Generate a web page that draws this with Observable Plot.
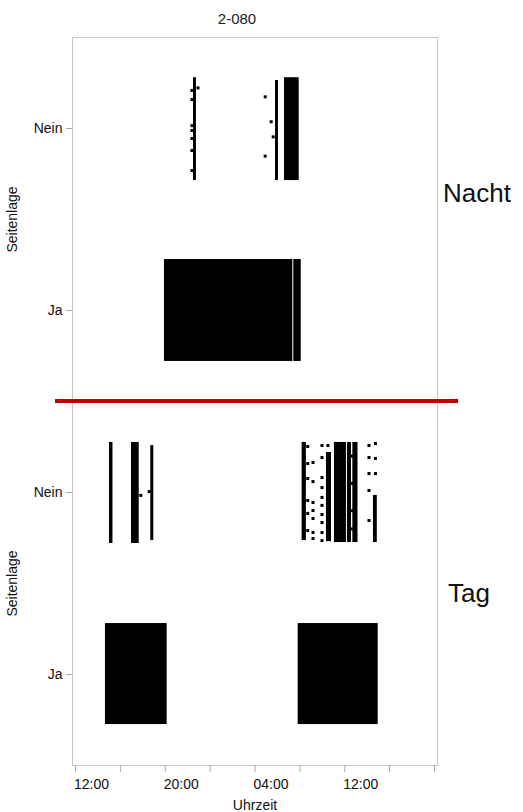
<!DOCTYPE html>
<html lang="de">
<head>
<meta charset="utf-8">
<title>2-080</title>
<script src="https://cdn.jsdelivr.net/npm/d3@7"></script>
<script src="https://cdn.jsdelivr.net/npm/@observablehq/plot@0.6"></script>
<style>
  html, body { margin: 0; padding: 0; background: #fff; }
  #chart { position: relative; width: 523px; height: 812px; font-family: "Liberation Sans", Arial, sans-serif; }
  #chart > svg { display: block; margin: 0; }
  #overlay { position: absolute; left: 0; top: 0; pointer-events: none; }
</style>
</head>
<body>
<div id="chart"></div>
<script>
// ---- Achse (Stunden ab Mitternacht des ersten Tages) ----
const stundenTicks = [12, 16, 20, 24, 28, 32, 36, 40, 44];
const stundenLabels = ["12:00", "", "20:00", "", "04:00", "", "12:00", "", ""];
const kategorien = ["Ja", "Nein"];            // y: Ja = 0, Nein = 1
const titel = "2-080";
const panelNamen = ["Nacht", "Tag"];

// ---- Nacht: Streifen [Kategorie, von, bis, Jitter oben, Jitter unten] ----
const nachtStreifen = [
  ["Ja",   19.93, 31.37,  0.28, -0.28],
  ["Ja",   31.46, 32.12,  0.28, -0.28],
  ["Nein", 22.52, 22.78,  0.279, -0.286],
  ["Nein", 29.83, 30.09,  0.264, -0.286],
  ["Nein", 30.63, 31.94,  0.279, -0.286]
];
// ---- Nacht: Einzelpunkte [Kategorie, Zeit, Jitter] ----
const nachtPunkte = [
  ["Nein", 22.38, 0.209], ["Nein", 22.38, 0.159], ["Nein", 22.38, 0.016],
  ["Nein", 22.38, -0.011], ["Nein", 22.38, -0.055], ["Nein", 22.38, -0.121],
  ["Nein", 22.38, -0.231], ["Nein", 22.92, 0.223],
  ["Nein", 28.91, 0.174], ["Nein", 29.44, 0.037], ["Nein", 29.62, -0.046],
  ["Nein", 28.91, -0.152]
];

// ---- Tag: Streifen ----
const tagStreifen = [
  ["Ja",   14.67, 20.17,  0.28, -0.275],
  ["Ja",   31.85, 38.98,  0.28, -0.275],
  ["Nein", 15.03, 15.34,  0.275, -0.28],
  ["Nein", 16.99, 17.68,  0.275, -0.28],
  ["Nein", 18.71, 18.98,  0.258, -0.264],
  ["Nein", 32.20, 32.58,  0.275, -0.264],
  ["Nein", 34.37, 34.82,  0.22, -0.27],
  ["Nein", 35.08, 36.15,  0.275, -0.275],
  ["Nein", 36.24, 36.60,  0.275, -0.275],
  ["Nein", 36.72, 37.18,  0.275, -0.275],
  ["Nein", 38.56, 38.90, -0.016, -0.275]
];
// ---- Tag: Einzelpunkte ----
const tagPunkte = [
  ["Nein", 17.82, -0.016], ["Nein", 18.57, 0.005],
  ["Nein", 32.70, 0.253], ["Nein", 32.70, 0.159], ["Nein", 32.70, 0.077],
  ["Nein", 32.70, -0.044], ["Nein", 32.70, -0.115], ["Nein", 32.70, -0.209],
  ["Nein", 33.17, 0.165], ["Nein", 33.17, 0.06], ["Nein", 33.17, -0.055],
  ["Nein", 33.17, -0.099], ["Nein", 33.17, -0.143], ["Nein", 33.17, -0.22],
  ["Nein", 33.17, -0.253],
  ["Nein", 33.97, 0.258], ["Nein", 33.97, 0.192], ["Nein", 33.97, 0.082],
  ["Nein", 33.97, 0.027], ["Nein", 33.97, -0.027], ["Nein", 33.97, -0.071],
  ["Nein", 33.97, -0.121], ["Nein", 33.97, -0.165], ["Nein", 33.97, -0.22],
  ["Nein", 33.97, -0.264],
  ["Nein", 34.50, 0.258],
  ["Nein", 36.66, 0.2], ["Nein", 36.66, 0.05], ["Nein", 36.66, -0.1], ["Nein", 36.66, -0.2],
  ["Nein", 38.16, 0.258], ["Nein", 38.16, 0.192], ["Nein", 38.16, 0.104],
  ["Nein", 38.16, 0.011], ["Nein", 38.16, -0.154],
  ["Nein", 38.74, 0.269], ["Nein", 38.74, 0.187], ["Nein", 38.74, 0.104]
];

const FONT = "'Liberation Sans', Arial, sans-serif";
const yi = (k) => kategorien.indexOf(k);

function panel(streifen, punkte, {height, marginTop, marginBottom, withX}) {
  const marks = [
    Plot.frame({stroke: "#c6c6c6"}),
    Plot.rect(streifen, {
      x1: d => d[1], x2: d => d[2],
      y1: d => yi(d[0]) + d[4], y2: d => yi(d[0]) + d[3],
      fill: "#000"
    }),
    Plot.dot(punkte, {
      x: d => d[1], y: d => yi(d[0]) + d[2],
      symbol: "square", r: 1.7, fill: "#000"
    }),
    Plot.axisY([0, 1], {
      tickFormat: d => kategorien[d],
      tickSize: 6, tickPadding: 4,
      stroke: "#aaa", fill: "#111", fontSize: 14,
      label: "Seitenlage", labelAnchor: "center", labelOffset: 65, labelArrow: "none"
    })
  ];
  if (withX) {
    marks.push(
      Plot.axisX(stundenTicks, {
        tickFormat: () => "", tickSize: 7, stroke: "#aaa", fill: "#111", fontSize: 14,
        label: "Uhrzeit", labelAnchor: "center", labelOffset: 44, labelArrow: "none"
      }),
      Plot.axisX(stundenTicks, {
        tickFormat: d => stundenLabels[stundenTicks.indexOf(d)],
        tickSize: 0, tickPadding: 14, fill: "#111", fontSize: 14,
        label: null, dx: 16
      })
    );
  }
  return Plot.plot({
    width: 523, height, marginTop, marginBottom, marginLeft: 72, marginRight: 86,
    x: {domain: [12, 44], inset: 3, axis: null},
    y: {domain: [-0.5, 1.5], axis: null},
    style: {fontFamily: FONT, fontSize: "14px", color: "#111", background: "transparent"},
    marks
  });
}

const chart = document.getElementById("chart");
chart.append(panel(nachtStreifen, nachtPunkte, {height: 401, marginTop: 37, marginBottom: 0, withX: false}));
chart.append(panel(tagStreifen, tagPunkte, {height: 411, marginTop: 0, marginBottom: 47, withX: true}));

// ---- Beschriftungen und rote Trennlinie ----
const ov = d3.select(chart).append("svg")
  .attr("id", "overlay").attr("width", 523).attr("height", 812)
  .style("font-family", FONT);
ov.append("line").attr("x1", 55).attr("x2", 458).attr("y1", 401).attr("y2", 401)
  .attr("stroke", "#c00000").attr("stroke-width", 4);
ov.append("text").attr("x", 237).attr("y", 24).attr("text-anchor", "middle")
  .attr("font-size", 15).attr("fill", "#222").text(titel);
ov.append("text").attr("x", 443).attr("y", 202).attr("font-size", 26)
  .attr("fill", "#111").text(panelNamen[0]);
ov.append("text").attr("x", 448).attr("y", 602).attr("font-size", 26)
  .attr("fill", "#111").text(panelNamen[1]);
</script>
</body>
</html>
